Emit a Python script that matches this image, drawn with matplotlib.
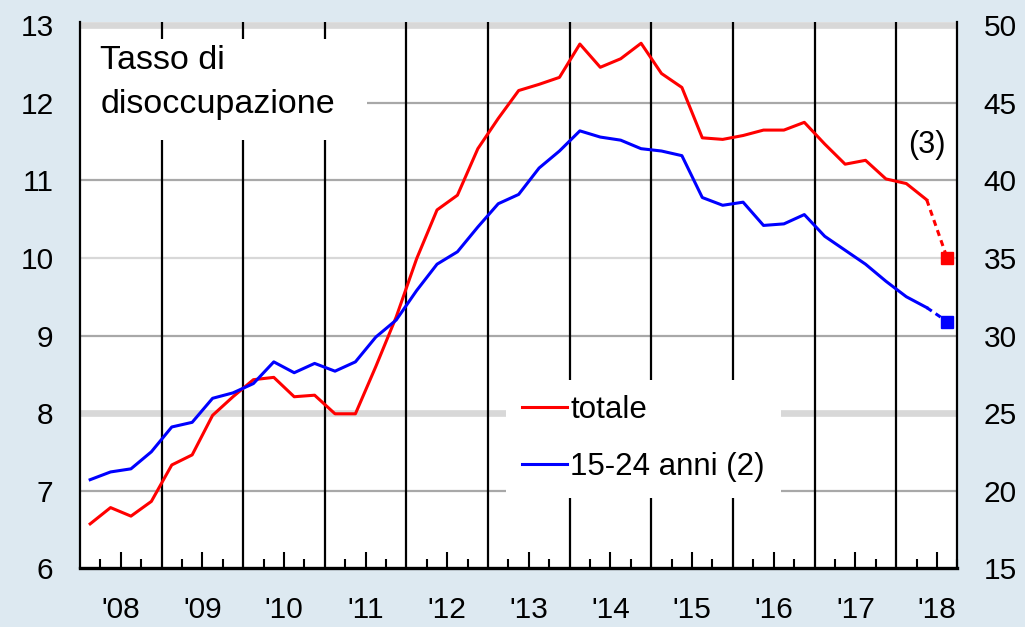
import matplotlib
matplotlib.use("Agg")
import matplotlib.pyplot as plt
from matplotlib.patches import Rectangle
from matplotlib.lines import Line2D
import numpy as np

plt.rcParams['font.family'] = ['Liberation Sans', 'DejaVu Sans']

# ============ Data (quarterly, 2008 Q1 - 2018 Q2) ============
totale = [6.57, 6.78, 6.67, 6.86,
          7.33, 7.46, 7.97, 8.21,
          8.43, 8.46, 8.21, 8.23,
          7.99, 7.99, 8.60, 9.24,
          9.99, 10.62, 10.81, 11.41,
          11.80, 12.16, 12.24, 12.33,
          12.76, 12.46, 12.57, 12.77,
          12.38, 12.20, 11.55, 11.53,
          11.58, 11.65, 11.65, 11.75,
          11.47, 11.21, 11.26, 11.02,
          10.96, 10.75]
giovani = [20.7, 21.2, 21.4, 22.5,
           24.1, 24.4, 25.95, 26.3,
           26.9, 28.3, 27.6, 28.2,
           27.7, 28.3, 29.9, 31.0,
           32.9, 34.6, 35.4, 37.0,
           38.5, 39.1, 40.8, 41.9,
           43.2, 42.8, 42.6, 42.05,
           41.9, 41.6, 38.9, 38.4,
           38.6, 37.1, 37.2, 37.8,
           36.4, 35.5, 34.6, 33.5,
           32.5, 31.8]
# latest estimate (3), 2018 Q3
totale_last = 10.0
giovani_last = 30.9

years = list(range(2008, 2019))
year_labels = ["'08", "'09", "'10", "'11", "'12", "'13", "'14", "'15", "'16", "'17", "'18"]

# quarter mid-points
t = 2008 + (np.arange(len(totale)) + 0.5) / 4
t_last = t[-1] + 0.25

# ============ Figure ============
bg = '#dde9f1'
fig = plt.figure(figsize=(10.25, 6.27), dpi=100, facecolor=bg)
ax = fig.add_axes([0.078, 0.094, 0.856, 0.871])
ax2 = ax.twinx()

ytop = 13.045
ax.set_xlim(2008, 2018.75)
ax.set_ylim(6, ytop)
ax2.set_ylim(15, 15 + (ytop - 6) * 5)

# horizontal grid
for v in [7, 9, 11, 12]:
    ax.axhline(v, color='#a8a8a8', lw=1.6, zorder=1)
for v in [8, 13]:
    ax.axhline(v, color='#d8d8d8', lw=4.8, zorder=1)
ax.axhline(10, color='#d8d8d8', lw=1.6, zorder=1)

# year separators
for y in years[1:]:
    ax.axvline(y, color='black', lw=1.6, zorder=1.5)

# white box behind the title
ax.add_patch(Rectangle((0, 0.783), 0.327, 0.186, transform=ax.transAxes,
                       facecolor='white', edgecolor='none', zorder=2))
ax.text(0.023, 0.958, 'Tasso di\ndisoccupazione', transform=ax.transAxes,
        fontsize=24.5, va='top', ha='left', linespacing=1.55, zorder=4)

# ============ Lines ============
ax.plot(t, totale, color='#ff0000', lw=2.2, zorder=3)
ax.plot([t[-1], t_last], [totale[-1], totale_last], color='#ff0000', lw=2.2,
        ls=(0, (2, 1.5)), zorder=3)
ax.plot([t_last], [totale_last], marker='s', ms=8.5, color='#ff0000', zorder=3)

ax2.plot(t, giovani, color='#0000ff', lw=2.2, zorder=3)
ax2.plot([t[-1], t_last], [giovani[-1], giovani_last], color='#0000ff', lw=2.2,
         ls=(0, (2, 1.5)), zorder=3)
ax2.plot([t_last], [giovani_last], marker='s', ms=8.5, color='#0000ff', zorder=3)

ax2.text(2018.38, 42.3, '(3)', fontsize=22, ha='center', va='center')

# ============ Legend ============
handles = [Line2D([], [], color='#ff0000', lw=2.2),
           Line2D([], [], color='#0000ff', lw=2.2)]
leg = ax2.legend(handles, ['totale', '15-24 anni (2)'], loc='lower left',
                 bbox_to_anchor=(0.486, 0.129), borderaxespad=0, fontsize=22.5,
                 frameon=True, fancybox=False, framealpha=1, facecolor='white',
                 edgecolor='white', borderpad=0.5, handlelength=1.45,
                 handletextpad=0.1, labelspacing=0.85)
leg.get_frame().set_linewidth(0)

# ============ Axes styling ============
ax.set_xticks([y + 0.5 for y in years])
ax.set_xticklabels(year_labels)
ax.set_xticks([y + q for y in years for q in (0.25, 0.75)], minor=True)
ax.tick_params(axis='x', which='major', direction='in', length=11.5, width=1.5,
               labelsize=21.5, pad=20)
ax.tick_params(axis='x', which='minor', direction='in', length=6.5, width=1.5)
ax.set_yticks(range(6, 14))
ax.tick_params(axis='y', length=0, labelsize=21.5, pad=19)
ax2.set_yticks(range(15, 51, 5))
ax2.tick_params(axis='y', length=0, labelsize=21.5, pad=19)

for s in ['top', 'right']:
    ax.spines[s].set_visible(False)
ax.spines['left'].set_linewidth(1.6)
ax.spines['bottom'].set_linewidth(2.4)
for s in ['top', 'left', 'bottom']:
    ax2.spines[s].set_visible(False)
ax2.spines['right'].set_linewidth(1.6)

fig.savefig('out.png', dpi=100, facecolor=bg)
